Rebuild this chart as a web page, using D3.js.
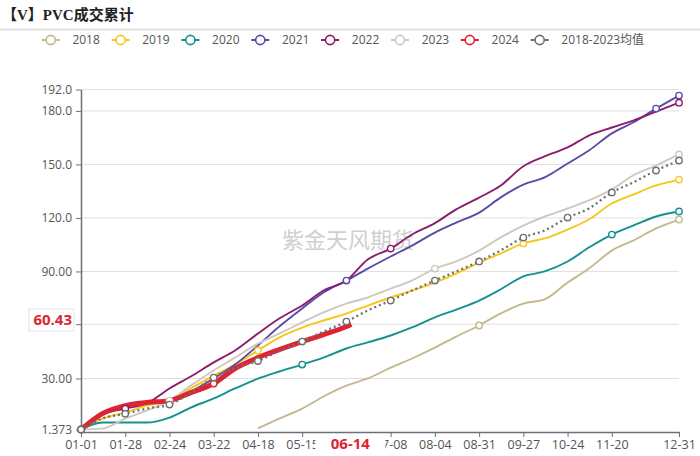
<!DOCTYPE html>
<html>
<head>
<meta charset="utf-8">
<script src="https://cdn.jsdelivr.net/npm/d3@7"></script>
<style>
  body { margin: 0; background: #fff; }
  svg { display: block; }
  text { font-family: "Open Sans", "Noto Sans CJK SC", sans-serif; }
</style>
</head>
<body>
<svg id="chart" width="700" height="456"></svg>
<script>
// sample dates (MM-DD, laid out on a leap-year calendar)
const sampleDates = ["01-01","01-14","01-28","02-10","02-24","03-08","03-22","04-04","04-18","05-01",
  "05-15","05-28","06-11","06-24","07-08","07-21","08-04","08-17","08-31","09-13",
  "09-27","10-10","10-24","11-06","11-20","12-03","12-17","12-31"];

const v2018 = [null,null,null,null,null,null,null,null,2.0,7.5,13.1,19.9,26.0,30.0,36.1,41.2,47.3,53.5,59.7,66.4,72.0,74.3,83.8,91.6,101.7,107.3,114.1,119.1];
const v2019 = [1.4,7.5,10.9,14.8,17.6,24.4,31.6,37.8,45.7,52.9,58.5,62.5,66.4,70.9,75.4,79.3,83.8,88.8,95.0,100.0,105.7,108.5,113.5,119.1,128.1,133.1,138.2,141.5];
const v2020 = [1.4,5.3,5.3,5.3,8.1,13.7,18.8,24.4,29.9,33.9,37.8,41.7,46.8,50.2,54.1,58.6,64.2,68.6,73.7,79.9,87.2,90.0,95.6,103.4,110.7,115.7,120.8,123.6];
const v2021 = [1.4,10.9,14.3,16.5,18.2,22.7,30.0,37.8,48.5,59.1,69.2,78.2,84.9,91.6,98.4,104.5,111.8,117.4,123.0,131.4,138.7,142.7,150.5,157.8,167.4,173.5,181.3,188.6];
const v2022 = [1.4,9.8,13.1,16.0,24.4,31.1,39.0,45.7,55.2,63.6,70.9,79.3,84.9,96.7,102.8,110.7,117.1,124.8,131.4,138.0,149.0,154.5,159.5,166.2,170.7,174.6,179.6,184.6];
const v2023 = [1.4,1.9,7.5,12.0,17.6,26.0,34.5,41.7,49.6,55.2,61.4,67.0,72.0,75.4,80.4,84.9,91.6,95.6,101.7,109.0,115.7,120.8,125.3,129.8,136.0,143.8,149.4,155.6];
const vAvg  = [1.4,7.5,10.3,13.1,15.4,22.1,30.5,35.9,39.8,45.4,50.7,56.3,61.9,68.1,73.7,79.3,84.9,90.0,95.6,101.7,109.0,113.0,120.2,125.3,134.3,139.9,146.6,152.2];

const dates2024 = ["01-01","01-14","01-28","02-10","02-24","03-08","03-22","04-04","04-18","05-01","05-15","05-28","06-11","06-14"];
const v2024 = [1.4,10.3,14.8,16.5,17.6,22.1,27.2,35.6,41.7,46.2,50.7,54.6,59.1,60.43];

const seriesNames = ["2018","2019","2020","2021","2022","2023","2024","2018-2023均值"];
const seriesColors = ["#c4b88e","#f7c61a","#17908f","#5a4aa8","#8c1c6c","#cfc8be","#dd2433","#707070"];

// dates where each series shows a circle
const markers = [
  ["08-31","12-31"],
  ["04-18","09-27","12-31"],
  ["05-15","11-20","12-31"],
  ["01-01","06-11","12-17","12-31"],
  ["01-28","07-08","12-31"],
  ["02-24","08-04","12-31"],
  ["03-22"],
  ["01-01","01-28","02-24","03-22","04-18","05-15","06-11","07-08","08-04","08-31","09-27","10-24","11-20","12-17","12-31"]
];

const xTickLabels = ["01-01","01-28","02-24","03-22","04-18","05-15","07-08","08-04","08-31","09-27","10-24","11-20","12-31"];
const yTicks = [1.373, 30, 90, 120, 150, 180, 192];
const yTickLabels = ["1.373","30.00","90.00","120.0","150.0","180.0","192.0"];
const gridValues = [30, 60.43, 90, 120, 150, 180, 192];
const currentDate = "06-14";
const currentValue = 60.43;

const svg = d3.select("#chart");
const parseDate = d3.timeParse("%Y-%m-%d");
const dayOf = (md) => d3.timeDay.count(new Date(2024, 0, 1), parseDate("2024-" + md));

const x = d3.scaleLinear().domain([0, 365]).range([81, 679]);
const y = d3.scaleLinear().domain([0, 192]).range([432, 89.5]);

// title + separator
svg.append("text")
  .attr("x", 2).attr("y", 20)
  .style("font-family", "'Liberation Serif', 'Noto Sans CJK SC', serif")
  .style("font-weight", "bold")
  .style("font-size", "15px")
  .attr("fill", "#222")
  .text("【V】PVC成交累计");

svg.append("line")
  .attr("x1", 0).attr("x2", 700).attr("y1", 29.5).attr("y2", 29.5)
  .attr("stroke", "#e0e0e0").attr("stroke-width", 2);

// legend
let lx = 41.7;
seriesNames.forEach((name, i) => {
  const g = svg.append("g");
  g.append("line")
    .attr("x1", lx).attr("x2", lx + 18).attr("y1", 40).attr("y2", 40)
    .attr("stroke", seriesColors[i]).attr("stroke-width", 2);
  g.append("circle")
    .attr("cx", lx + 9).attr("cy", 40).attr("r", 4.6)
    .attr("fill", "#fff").attr("stroke", seriesColors[i]).attr("stroke-width", 1.6);
  const t = g.append("text")
    .attr("x", lx + 30.7).attr("y", 44.3)
    .style("font-size", "12px")
    .attr("fill", "#555")
    .text(name);
  lx = lx + 30.7 + t.node().getComputedTextLength() + 11.7;
});

// grid
svg.append("g")
  .selectAll("line")
  .data(gridValues)
  .enter()
  .append("line")
  .attr("x1", x(0)).attr("x2", x(365))
  .attr("y1", (d) => y(d)).attr("y2", (d) => y(d))
  .attr("stroke", "#e0e0e0").attr("stroke-width", 1);

// watermark
svg.append("text")
  .attr("x", 348).attr("y", 248)
  .attr("text-anchor", "middle")
  .style("font-family", "'Noto Sans CJK SC', sans-serif")
  .style("font-size", "22px")
  .attr("fill", "#c8c8c8")
  .attr("opacity", 0.85)
  .text("紫金天风期货");

// y axis
const yAxis = svg.append("g")
  .attr("transform", "translate(81,0)")
  .call(d3.axisLeft(y)
    .tickValues(yTicks.concat([currentValue]))
    .tickFormat((d) => { const i = yTicks.indexOf(d); return i >= 0 ? yTickLabels[i] : ""; })
    .tickSize(5).tickSizeOuter(0).tickPadding(4));
yAxis.select(".domain").attr("stroke", "#6e7079").attr("stroke-width", 1.5);
yAxis.selectAll(".tick line").attr("stroke", "#6e7079");
yAxis.selectAll(".tick text").attr("fill", "#555").style("font-size", "12px")
  .style("font-family", "'Open Sans', sans-serif");

// x axis
const xAxis = svg.append("g")
  .attr("transform", "translate(0,432)")
  .call(d3.axisBottom(x)
    .tickValues(xTickLabels.map(dayOf))
    .tickFormat((d) => xTickLabels[xTickLabels.map(dayOf).indexOf(d)])
    .tickSize(5).tickSizeOuter(0).tickPadding(3));
xAxis.select(".domain").attr("stroke", "#6e7079").attr("stroke-width", 1.5);
xAxis.selectAll(".tick line").attr("stroke", "#6e7079");
xAxis.selectAll(".tick text").attr("fill", "#555").style("font-size", "12.5px")
  .style("font-family", "'Open Sans', sans-serif");

// series
const series = [
  { dates: sampleDates, values: v2018 },
  { dates: sampleDates, values: v2019 },
  { dates: sampleDates, values: v2020 },
  { dates: sampleDates, values: v2021 },
  { dates: sampleDates, values: v2022 },
  { dates: sampleDates, values: v2023 },
  { dates: dates2024, values: v2024 },
  { dates: sampleDates, values: vAvg }
].map((s, i) => ({
  name: seriesNames[i],
  color: seriesColors[i],
  markers: markers[i],
  points: s.dates.map((d, j) => ({ date: d, day: dayOf(d), value: s.values[j] }))
    .filter((p) => p.value != null)
}));

const line = d3.line()
  .x((d) => x(d.day))
  .y((d) => y(d.value))
  .curve(d3.curveMonotoneX);

series.forEach((s, i) => {
  const isAvg = i === 7;
  const is2024 = i === 6;
  svg.append("path")
    .datum(s.points)
    .attr("d", line)
    .attr("fill", "none")
    .attr("stroke", s.color)
    .attr("stroke-width", is2024 ? 5 : isAvg ? 2.3 : 1.9)
    .attr("stroke-dasharray", isAvg ? "2,3" : null)
    .attr("stroke-linejoin", "round");
});

series.forEach((s) => {
  svg.append("g")
    .selectAll("circle")
    .data(s.points.filter((p) => s.markers.includes(p.date)))
    .enter()
    .append("circle")
    .attr("cx", (d) => x(d.day))
    .attr("cy", (d) => y(d.value))
    .attr("r", 3.2)
    .attr("fill", "#fff")
    .attr("stroke", s.color)
    .attr("stroke-width", 1.4);
});

// current value label on y axis
svg.append("rect")
  .attr("x", 29).attr("y", 309).attr("width", 45).attr("height", 22)
  .attr("fill", "#fff").attr("stroke", "#e3e3e3").attr("stroke-width", 1);
svg.append("text")
  .attr("x", 72).attr("y", y(currentValue) + 1)
  .attr("text-anchor", "end")
  .style("font-size", "15px").style("font-weight", "bold")
  .attr("fill", "#dd2433")
  .text(currentValue.toFixed(2));

// current date label on x axis
const cx = x(dayOf(currentDate)) - 1;
svg.append("rect")
  .attr("x", cx - 35).attr("y", 435).attr("width", 70).attr("height", 18)
  .attr("fill", "#fff");
svg.append("text")
  .attr("x", cx).attr("y", 449)
  .attr("text-anchor", "middle")
  .style("font-size", "15px").style("font-weight", "bold")
  .attr("fill", "#dd2433")
  .text(currentDate);
</script>
</body>
</html>
